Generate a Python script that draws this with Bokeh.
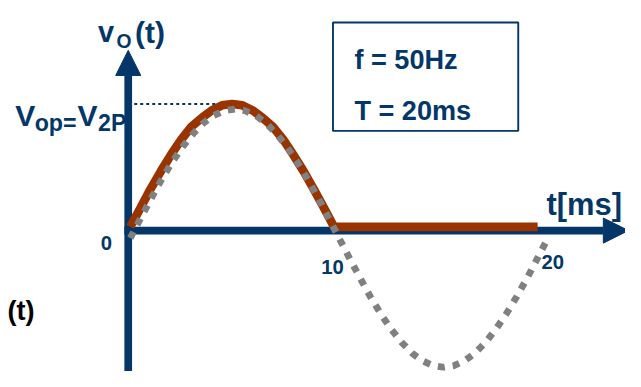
from bokeh.plotting import figure
from bokeh.models import Range1d, Arrow, NormalHead, Label, BoxAnnotation
from bokeh.core.properties import value
from bokeh.embed import file_html
from bokeh.resources import INLINE

# ---- data (t in ms, v normalised to peak) ----
in_t = [0.10, 0.61, 1.12, 1.62, 2.13, 2.64, 3.15, 3.65, 4.16, 4.67, 5.18,
        5.68, 6.19, 6.70, 7.21, 7.71, 8.22, 8.73, 9.24, 9.74, 10.25,
        10.76, 11.27, 11.77, 12.28, 12.79, 13.30, 13.80, 14.31, 14.82, 15.33,
        15.83, 16.34, 16.85, 17.36, 17.86, 18.37, 18.88, 19.39, 19.89, 20.40]
in_v = [-0.06, 0.10, 0.255, 0.403, 0.54, 0.661, 0.765, 0.849, 0.91, 0.947, 0.96,
        0.947, 0.91, 0.849, 0.765, 0.661, 0.54, 0.403, 0.255, 0.10, -0.06,
        -0.22, -0.375, -0.523, -0.66, -0.781, -0.885, -0.969, -1.03, -1.067, -1.08,
        -1.067, -1.03, -0.969, -0.885, -0.781, -0.66, -0.523, -0.375, -0.22, -0.06]
out_t = [0.10, 0.60, 1.09, 1.59, 2.08, 2.58, 3.07, 3.57, 4.06, 4.56, 5.05,
         5.55, 6.04, 6.54, 7.03, 7.53, 8.02, 8.52, 9.01, 9.51, 10.0, 19.9]
out_v = [0.03, 0.18, 0.33, 0.47, 0.60, 0.72, 0.82, 0.89, 0.95, 0.99, 1.00,
         0.99, 0.95, 0.89, 0.82, 0.72, 0.60, 0.47, 0.33, 0.18, 0.03, 0.03]
tick_vals = [0, 10, 20]
tick_labels = ["0", "10", "20"]
info_lines = ["f = 50Hz", "T = 20ms"]

# ---- layout helpers (reference pixel -> data) ----
NAVY = "#043768"
BROWN = "#993300"
GREY = "#808080"
W, H = 625, 371
K = 0.967            # pixel-size scale (canvas / reference)
OX, OY = 131.0, 240.0
SX, SY = 21.1, 132.0


def X(px):
    return (px - OX) / SX


def Y(py):
    return (OY - py) / SY


def s(v):
    return round(v * K, 1)


p = figure(width=W, height=H, x_range=Range1d(X(0), X(641)),
           y_range=Range1d(Y(387), Y(0)),
           x_axis_location=None, y_axis_location=None,
           toolbar_location=None, output_backend="svg", min_border=0,
           outline_line_color=None)
p.grid.grid_line_color = None

BOLD = "Liberation Sans"


def lab(text, px, py, size, color=NAVY, align="left", level="annotation"):
    l = Label(x=X(px), y=Y(py), text=text, text_font=BOLD,
              text_font_size=f"{s(size)}px", text_font_style="bold",
              text_color=color, text_align=align, text_baseline="alphabetic",
              level=level)
    p.add_layout(l)


# V_op = V_2P label (under the axis)
lab("V", 15, 120, 31, level="underlay")
lab("op=", 35, 128, 24, level="underlay")
lab("V", 79, 120, 31, level="underlay")
lab("2P", 100, 128, 24, level="underlay")

# dotted peak marker
i_peak = out_v.index(max(out_v))
r = p.line([0, out_t[i_peak]], [out_v[i_peak], out_v[i_peak]],
           line_color=NAVY, line_width=s(2), line_dash="3 3")
r.level = "underlay"

# axes
p.add_layout(Arrow(end=NormalHead(size=s(26), fill_color=NAVY, line_color=NAVY),
                   x_start=0, y_start=Y(400), x_end=0, y_end=Y(52),
                   line_color=NAVY, line_width=s(8), level="underlay"))
p.add_layout(Arrow(end=NormalHead(size=s(26), fill_color=NAVY, line_color=NAVY),
                   x_start=X(127), y_start=0, x_end=X(644), y_end=0,
                   line_color=NAVY, line_width=s(8), level="underlay"))

# curves
p.line(out_t, out_v, line_color=BROWN, line_width=s(9))
p.line(in_t, in_v, line_color=GREY, line_width=s(7), line_dash="7 8")

# tick labels
p.text(x=tick_vals, y=[0, 0, 0], text=tick_labels,
       x_offset=[s(-22.5), s(-1.5), s(13.5)], y_offset=[s(13), s(38), s(33)],
       text_font=value(BOLD), text_font_style="bold", text_font_size=f"{s(21)}px",
       text_color=NAVY, text_align="center", text_baseline="alphabetic")

# titles
lab("v", 100, 33, 30)
lab("O", 119, 43, 20)
lab("(t)", 138, 33, 31)
lab("t[ms]", 560, 213, 32)
lab("(t)", 35, 323, 28, color="black", align="right")

# info box
p.add_layout(BoxAnnotation(left=X(341), right=X(531), top=Y(23), bottom=Y(136),
                           fill_alpha=0, line_alpha=1, line_color=NAVY,
                           line_width=s(2)))
lab(info_lines[0], 363, 62, 28)
lab(info_lines[1], 363, 115, 28)

open("out.html", "w").write(file_html(p, INLINE))
